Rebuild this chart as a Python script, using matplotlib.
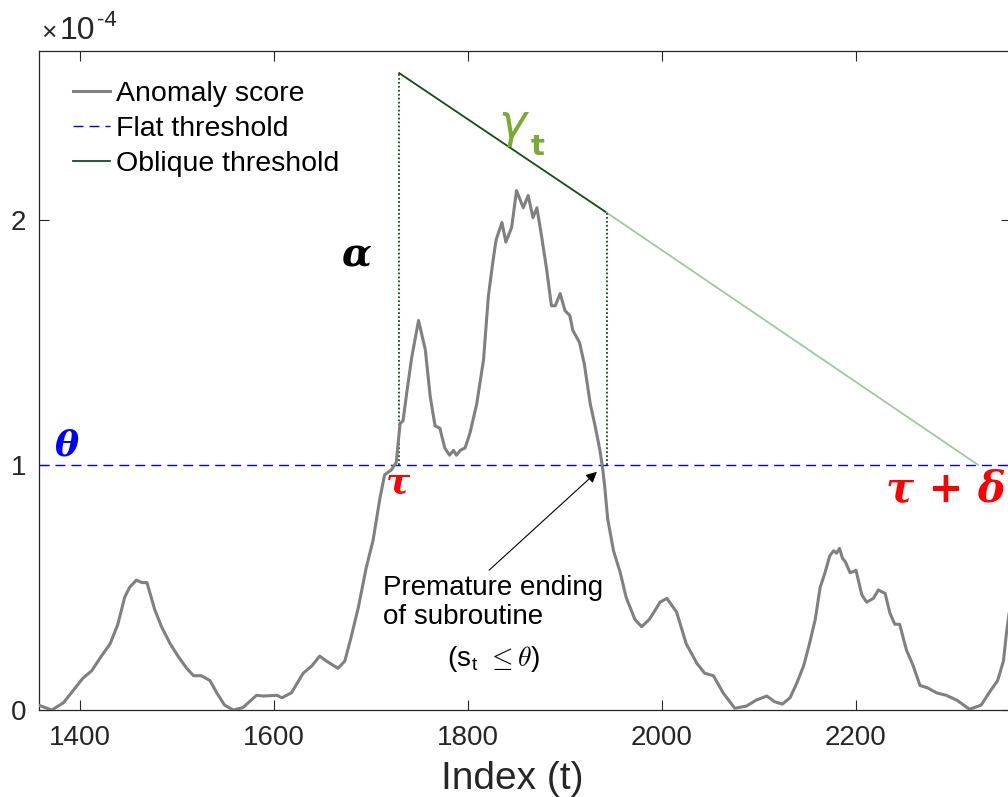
import numpy as np
import matplotlib
matplotlib.use("Agg")
import matplotlib.pyplot as plt

plt.rcParams['font.family'] = ['Liberation Sans', 'DejaVu Sans']
plt.rcParams['mathtext.fontset'] = 'cm'

# anomaly score (units of 1e-4)
t = [1357, 1371, 1383, 1393, 1403, 1412, 1422, 1431, 1439, 1446, 1451, 1458, 1464, 1469,
     1477, 1484, 1493, 1501, 1510, 1517, 1525, 1534, 1541, 1549, 1558, 1568, 1582, 1589,
     1603, 1608, 1618, 1630, 1639, 1647, 1654, 1666, 1673, 1679, 1687, 1695, 1702, 1709,
     1714, 1721, 1726, 1730, 1733, 1737, 1742, 1749, 1756, 1761, 1766, 1771, 1776, 1781,
     1785, 1788, 1792, 1797, 1802, 1809, 1816, 1821, 1826, 1829, 1835, 1839, 1845, 1850,
     1857, 1862, 1867, 1871, 1876, 1881, 1886, 1890, 1895, 1900, 1905, 1908, 1915, 1920,
     1926, 1931, 1936, 1939, 1941, 1944, 1950, 1957, 1963, 1972, 1979, 1987, 1998, 2005,
     2015, 2025, 2036, 2044, 2053, 2063, 2075, 2087, 2097, 2108, 2116, 2124, 2132, 2139,
     2146, 2152, 2158, 2163, 2168, 2173, 2177, 2180, 2183, 2186, 2189, 2194, 2200, 2206,
     2211, 2218, 2223, 2230, 2235, 2240, 2245, 2252, 2259, 2266, 2274, 2283, 2293, 2304,
     2317, 2329, 2338, 2346, 2352, 2355, 2358]
score = [0.02, 0.0, 0.03, 0.08, 0.13, 0.16, 0.22, 0.27, 0.35, 0.46, 0.50, 0.53, 0.52, 0.52,
         0.41, 0.34, 0.27, 0.22, 0.17, 0.14, 0.14, 0.12, 0.07, 0.02, 0.0, 0.01, 0.06, 0.057,
         0.06, 0.05, 0.07, 0.15, 0.18, 0.22, 0.20, 0.17, 0.20, 0.29, 0.42, 0.58, 0.69, 0.86,
         0.96, 0.98, 1.01, 1.17, 1.18, 1.30, 1.44, 1.59, 1.47, 1.28, 1.16, 1.15, 1.07, 1.04,
         1.06, 1.04, 1.06, 1.07, 1.13, 1.25, 1.43, 1.69, 1.84, 1.92, 1.99, 1.91, 1.97, 2.12,
         2.05, 2.10, 2.01, 2.05, 1.93, 1.80, 1.65, 1.65, 1.70, 1.63, 1.61, 1.55, 1.50, 1.41,
         1.25, 1.16, 1.06, 0.98, 0.91, 0.78, 0.65, 0.56, 0.46, 0.37, 0.34, 0.37, 0.44, 0.456,
         0.40, 0.27, 0.19, 0.15, 0.14, 0.07, 0.007, 0.016, 0.04, 0.057, 0.034, 0.024, 0.05, 0.11,
         0.18, 0.27, 0.37, 0.50, 0.56, 0.63, 0.65, 0.64, 0.66, 0.62, 0.605, 0.56, 0.57, 0.47,
         0.44, 0.456, 0.49, 0.476, 0.395, 0.35, 0.35, 0.245, 0.18, 0.10, 0.09, 0.07, 0.06, 0.04,
         0.003, 0.02, 0.075, 0.12, 0.20, 0.31, 0.40]

theta = 1.0
tau = 1729
t_end = 1943
t_delta = 2326
alpha = 2.60
gamma_end = 2.03

obl_x = [tau, t_end]
obl_y = [alpha, gamma_end]
ext_x = [t_end, t_delta]
ext_y = [gamma_end, theta]

W, H = 1008, 797
fig = plt.figure(figsize=(W / 100, H / 100), dpi=100)
ax = fig.add_axes([39 / W, 1 - 710 / H, 972 / W, 659 / H])

ax.plot(t, score, color='#808080', lw=2.2, label='Anomaly score', zorder=3)
ax.axhline(theta, color='#0000ee', lw=1.0, dashes=(7.2, 4.3), label='Flat threshold', zorder=2)
ax.plot(obl_x, obl_y, color='#0f4f14', lw=1.3, label='Oblique threshold', zorder=2)
ax.plot(ext_x, ext_y, color='#a3c6a3', lw=1.3, zorder=2)
ax.plot([tau, tau], [theta, alpha], color='#0f4f14', lw=1.3, dashes=(1, 1.2), zorder=2)
ax.plot([t_end, t_end], [theta, gamma_end], color='#0f4f14', lw=1.3, dashes=(1, 1.2), zorder=2)

ax.set_xlim(1357.7, 2359.8)
ax.set_ylim(0, 2.69)
ax.set_xticks([1400, 1600, 1800, 2000, 2200])
ax.set_yticks([0, 1, 2])
ax.tick_params(direction='in', length=7, width=0.8, top=True, right=True,
               labelsize=20, colors='#262626', pad=9)
ax.tick_params(axis='x', pad=11)
for sp in ax.spines.values():
    sp.set_color('#262626')
    sp.set_linewidth(0.9)
ax.set_xlabel('Index (t)', fontsize=28, color='#262626')
ax.xaxis.set_label_coords(0.487, -(779 - 710) / 659)
ax.xaxis.label.set_va('center')

fig.text(41 / W, 1 - 45 / H, '×', fontsize=19, color='#262626', ha='left', va='bottom')
fig.text(60 / W, 1 - 46 / H, '10', fontsize=23, color='#262626', ha='left', va='bottom')
fig.text(97 / W, 1 - 31 / H, '-4', fontsize=16, color='#262626', ha='left', va='bottom')

ax.legend(loc='upper left', bbox_to_anchor=(73 / W, 1 - 81 / H), bbox_transform=fig.transFigure,
          frameon=False, fontsize=20.5, handlelength=1.3, handletextpad=0.2,
          labelspacing=0.32, borderpad=0, borderaxespad=0)

greek = dict(family='DejaVu Serif', style='italic', weight='bold')
ax.text(1386, 1.08, 'θ', color='#0000ff', fontsize=26, ha='center', va='center', **greek)
ax.text(1728, 0.93, 'τ', color='red', fontsize=26, ha='center', va='center', **greek)
ax.text(2231, 0.90, 'τ + δ', color='red', fontsize=30, ha='left', va='center', **greek)
ax.text(1685, 1.86, 'α', color='black', fontsize=28, ha='center', va='center', **greek)
ax.text(1846, 2.39, 'γ', color='#77ac30', fontsize=34, ha='center', va='center',
        family='DejaVu Sans', style='italic')
ax.text(1872, 2.30, 't', color='#77ac30', fontsize=21, ha='center', va='center',
        family='DejaVu Sans', weight='bold')

ax.annotate('', xy=(1935, 0.98), xytext=(1819.6, 0.563),
            arrowprops=dict(arrowstyle='-|>', color='black', lw=0.8, mutation_scale=16))
ax.text(1712.4, 0.437, 'Premature ending\nof subroutine', fontsize=20, color='black',
        ha='left', va='center', linespacing=1.15)
ax.text(1826, 0.21, '(s$_\\mathregular{t}$ $\\leq\\theta$)', fontsize=20, color='black',
        ha='center', va='center')

fig.savefig('out.png', dpi=100)
